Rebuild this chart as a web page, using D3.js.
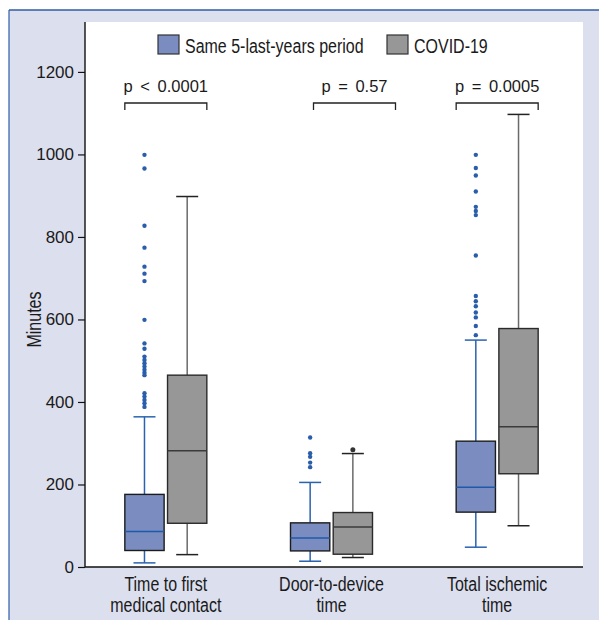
<!DOCTYPE html>
<html>
<head>
<meta charset="utf-8">
<script src="https://cdn.jsdelivr.net/npm/d3@7"></script>
<style>
  html, body { margin: 0; padding: 0; background: #ffffff; }
  svg text { font-family: "Liberation Sans", Arial, Helvetica, sans-serif; fill: #1a1a1a; }
</style>
</head>
<body>
<div id="chart"></div>
<script>
// ---------- DATA ----------
const categories = ["Time to first\nmedical contact", "Door-to-device\ntime", "Total ischemic\ntime"];
const seriesNames = ["Same 5-last-years period", "COVID-19"];
const pValues = ["p < 0.0001", "p = 0.57", "p = 0.0005"];
const yTicks = [0, 200, 400, 600, 800, 1000, 1200];

// Same 5-last-years period
const prevLow    = [10, 14, 48];
const prevQ1     = [40, 39, 133];
const prevMedian = [86, 70, 193];
const prevQ3     = [176, 107, 305];
const prevHigh   = [364, 205, 550];
const prevOutliers = [
  [999, 966, 827, 774, 728, 711, 693, 599, 542, 529, 510, 502, 494, 486, 478, 471, 465, 421, 413, 405, 397, 388],
  [314, 276, 267, 253, 242],
  [999, 967, 949, 910, 873, 863, 853, 755, 657, 644, 632, 617, 605, 584, 562]
];

// COVID-19
const covLow    = [30, 23, 100];
const covQ1     = [106, 31, 226];
const covMedian = [282, 97, 340];
const covQ3     = [465, 132, 578];
const covHigh   = [898, 275, 1097];
const covOutliers = [[], [284], []];

// ---------- BUILD ----------
const W = 599, H = 620;
const plot = { left: 85, right: 583, top: 22, bottom: 567 };
const NARROW = 0.82;

const svg = d3.select("#chart").append("svg")
  .attr("width", W).attr("height", H)
  .attr("viewBox", `0 0 ${W} ${H}`);

// condensed text helper
function ntext(parent, tx, ty, str, size, anchor, rot) {
  return parent.append("text")
    .attr("transform", `translate(${tx},${ty})${rot ? " rotate(" + rot + ")" : ""} scale(${NARROW},1)`)
    .attr("text-anchor", anchor || "start")
    .attr("font-size", size)
    .text(str);
}

// frame background
svg.append("rect").attr("x", 9).attr("y", 10).attr("width", W - 9).attr("height", H - 10).attr("fill", "#dcdfee");
svg.append("line").attr("x1", 9).attr("x2", W).attr("y1", 10).attr("y2", 10).attr("stroke", "#2f5da8").attr("stroke-width", 1.5);
svg.append("line").attr("x1", 9).attr("x2", 9).attr("y1", 10).attr("y2", H).attr("stroke", "#2f5da8").attr("stroke-width", 1.2);

// plot area
svg.append("rect").attr("x", plot.left).attr("y", plot.top)
  .attr("width", plot.right - plot.left).attr("height", plot.bottom - plot.top).attr("fill", "#ffffff");

const y = d3.scaleLinear().domain([0, 1321]).range([plot.bottom, plot.top]);
const x = d3.scaleBand().domain(categories).range([83, 580]).padding(0);
const sub = d3.scaleBand().domain(seriesNames).range([-41, 41]).paddingInner(0.08);

const series = [
  { name: seriesNames[0], low: prevLow, q1: prevQ1, med: prevMedian, q3: prevQ3, high: prevHigh, out: prevOutliers,
    fill: "#7a8cc0", stroke: "#1c1c1c", medColor: "#1f5aa8", whisk: "#2a62b0", cap: "#2a62b0", dot: "#2a5eaa", dotR: 2.2 },
  { name: seriesNames[1], low: covLow, q1: covQ1, med: covMedian, q3: covQ3, high: covHigh, out: covOutliers,
    fill: "#979797", stroke: "#2a2a2a", medColor: "#3a3a3a", whisk: "#6a6a6a", cap: "#222222", dot: "#333333", dotR: 2.5 }
];

const bw = sub.bandwidth();
series.forEach(s => {
  categories.forEach((c, i) => {
    const cx = x(c) + x.bandwidth() / 2 + sub(s.name) + bw / 2;
    const g = svg.append("g");
    // whiskers
    g.append("line").attr("x1", cx).attr("x2", cx).attr("y1", y(s.q3[i])).attr("y2", y(s.high[i]))
      .attr("stroke", s.whisk).attr("stroke-width", 1.5);
    g.append("line").attr("x1", cx).attr("x2", cx).attr("y1", y(s.q1[i])).attr("y2", y(s.low[i]))
      .attr("stroke", s.whisk).attr("stroke-width", 1.5);
    g.append("line").attr("x1", cx - 11).attr("x2", cx + 11).attr("y1", y(s.high[i])).attr("y2", y(s.high[i]))
      .attr("stroke", s.cap).attr("stroke-width", 1.5);
    g.append("line").attr("x1", cx - 11).attr("x2", cx + 11).attr("y1", y(s.low[i])).attr("y2", y(s.low[i]))
      .attr("stroke", s.cap).attr("stroke-width", 1.5);
    // box
    g.append("rect").attr("x", cx - bw / 2).attr("width", bw)
      .attr("y", y(s.q3[i])).attr("height", y(s.q1[i]) - y(s.q3[i]))
      .attr("fill", s.fill).attr("stroke", s.stroke).attr("stroke-width", 1.4);
    g.append("line").attr("x1", cx - bw / 2).attr("x2", cx + bw / 2).attr("y1", y(s.med[i])).attr("y2", y(s.med[i]))
      .attr("stroke", s.medColor).attr("stroke-width", 1.5);
    // outliers
    g.selectAll("circle").data(s.out[i]).enter().append("circle")
      .attr("cx", cx).attr("cy", d => y(d)).attr("r", s.dotR).attr("fill", s.dot);
  });
});

// axes
const yAxis = d3.axisLeft(y).tickValues(yTicks).tickFormat(d3.format("d")).tickSize(7).tickPadding(4);
const ya = svg.append("g").attr("transform", `translate(${plot.left},0)`).call(yAxis);
ya.select(".domain").remove();
ya.selectAll(".tick line").attr("stroke", "#111").attr("stroke-width", 1.2);
ya.selectAll(".tick text").attr("font-size", 17).attr("fill", "#1a1a1a")
  .attr("font-family", "'Liberation Sans', Arial, sans-serif");
svg.append("line").attr("x1", plot.left).attr("x2", plot.left).attr("y1", plot.top).attr("y2", plot.bottom)
  .attr("stroke", "#111").attr("stroke-width", 1.4);
svg.append("line").attr("x1", plot.left).attr("x2", plot.right).attr("y1", plot.bottom).attr("y2", plot.bottom)
  .attr("stroke", "#111").attr("stroke-width", 1.4);

// x category labels
categories.forEach(c => {
  c.split("\n").forEach((ln, k) => {
    ntext(svg, x(c) + x.bandwidth() / 2, 591 + k * 21, ln, 19.5, "middle");
  });
});

// y label
ntext(svg, 41, (plot.top + plot.bottom) / 2 + 25, "Minutes", 19.5, "middle", -90);

// p-value brackets
const bracketShift = [0, 23, 0];
categories.forEach((c, i) => {
  const c0 = x(c) + x.bandwidth() / 2;
  const x1 = c0 + sub(seriesNames[0]) + bracketShift[i];
  const x2 = c0 + sub(seriesNames[1]) + bw + bracketShift[i];
  svg.append("path")
    .attr("d", `M${x1},110 V103 H${x2} V110`)
    .attr("fill", "none").attr("stroke", "#222").attr("stroke-width", 1.3);
  svg.append("text").attr("x", (x1 + x2) / 2).attr("y", 92).attr("text-anchor", "middle")
    .attr("font-size", 16.5).style("word-spacing", "3px").text(pValues[i]);
});

// legend
const legendX = [158, 387];
series.forEach((s, k) => {
  svg.append("rect").attr("x", legendX[k]).attr("y", 35).attr("width", 21).attr("height", 19)
    .attr("fill", s.fill).attr("stroke", "#333").attr("stroke-width", 1.2);
  ntext(svg, legendX[k] + 27, 53, s.name, 19.5, "start");
});
</script>
</body>
</html>
